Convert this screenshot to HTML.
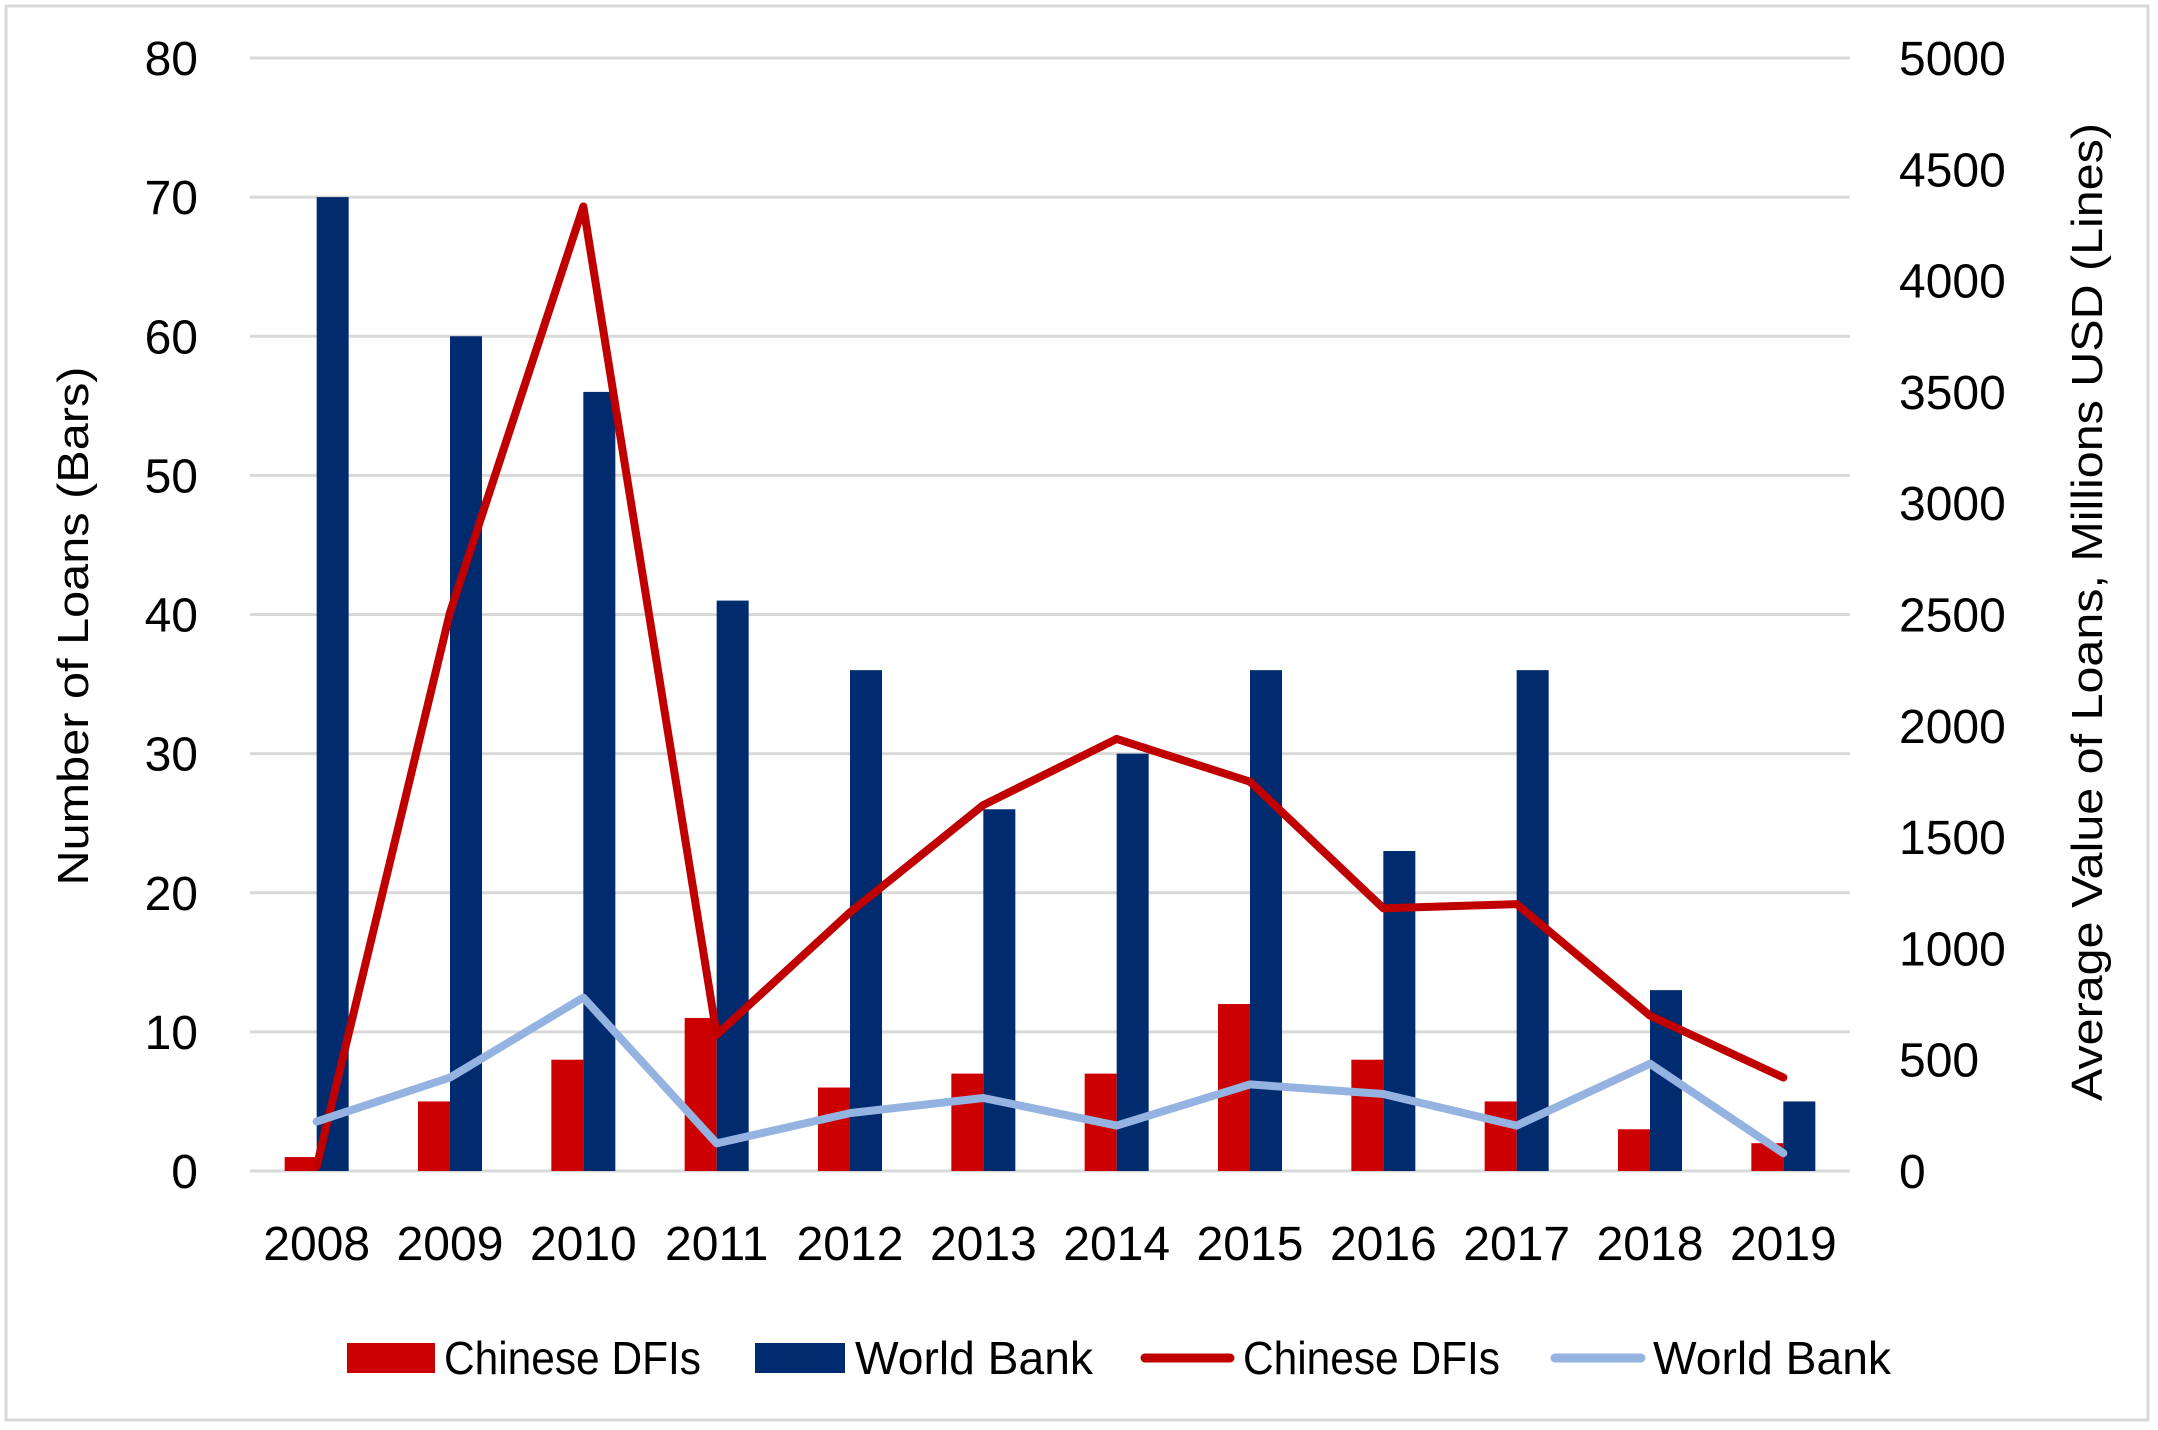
<!DOCTYPE html>
<html><head><meta charset="utf-8"><style>
html,body{margin:0;padding:0;background:#fff;}
svg{display:block;font-family:"Liberation Sans",sans-serif;}
</style></head><body>
<svg id="c" width="2158" height="1430" xmlns="http://www.w3.org/2000/svg">
<rect x="6" y="6" width="2142" height="1414" fill="#fff" stroke="#d9d9d9" stroke-width="3"/>
</svg>
<script>
const s=document.getElementById('c');const NS='http://www.w3.org/2000/svg';
function el(t,a,txt){const e=document.createElementNS(NS,t);for(const k in a)e.setAttribute(k,a[k]);if(txt!==undefined)e.textContent=txt;s.appendChild(e);return e;}
const L=250,R=1850,Y0=1171,Y80=58;const yl=v=>Y0-v*(Y0-Y80)/80,yr=v=>Y0-v*(Y0-Y80)/5000;
for(let i=0;i<=8;i++){const y=yl(i*10);el('line',{x1:L,x2:R,y1:y,y2:y,stroke:'#d9d9d9','stroke-width':3});
el('text',{x:198,y:y+17,'font-size':48,'text-anchor':'end'},String(i*10));}
for(let v=0;v<=5000;v+=500){el('text',{x:1899,y:yr(v)+17,'font-size':48},String(v));}
const red=[1,5,8,11,6,7,7,12,8,5,3,2],blue=[70,60,56,41,36,26,30,36,23,36,13,5];
const rl=[20,2509,4333,612,1162,1644,1941,1749,1180,1199,698,420];
const bl=[222,420,779,124,260,328,204,389,346,204,482,80];
const w=(R-L)/12;
for(let i=0;i<12;i++){const c=L+w*(i+0.5);
el('rect',{x:c-32,y:yl(red[i]),width:32,height:Y0-yl(red[i]),fill:'#cc0000'});
el('rect',{x:c,y:yl(blue[i]),width:32,height:Y0-yl(blue[i]),fill:'#002b6f'});
el('text',{x:c,y:1260,'font-size':48,'text-anchor':'middle'},String(2008+i));}
function pl(d,col){el('polyline',{points:d.map((v,i)=>(L+w*(i+0.5))+','+yr(v)).join(' '),fill:'none',stroke:col,'stroke-width':8,'stroke-linejoin':'round','stroke-linecap':'round'});}
pl(rl,'#c00000');pl(bl,'#95b3e1');
el('text',{transform:'translate(88,626) rotate(-90)','font-size':44,'text-anchor':'middle',textLength:519,lengthAdjust:'spacingAndGlyphs'},'Number of Loans (Bars)');
el('text',{transform:'translate(2102,612) rotate(-90)','font-size':44,'text-anchor':'middle',textLength:978,lengthAdjust:'spacingAndGlyphs'},'Average Value of Loans, Millions USD (Lines)');
el('rect',{x:347,y:1343,width:88,height:30,fill:'#cc0000'});
el('rect',{x:755,y:1343,width:90,height:30,fill:'#002b6f'});
el('line',{x1:1145,x2:1230,y1:1358,y2:1358,stroke:'#c00000','stroke-width':9,'stroke-linecap':'round'});
el('line',{x1:1555,x2:1641,y1:1358,y2:1358,stroke:'#95b3e1','stroke-width':9,'stroke-linecap':'round'});
const lt=[[444,'Chinese DFIs',257],[855,'World Bank',238],[1243,'Chinese DFIs',257],[1653,'World Bank',238]];
lt.forEach(([x,t,l])=>el('text',{x:x,y:1374,'font-size':46,textLength:l,lengthAdjust:'spacingAndGlyphs'},t));
</script>
</body></html>
